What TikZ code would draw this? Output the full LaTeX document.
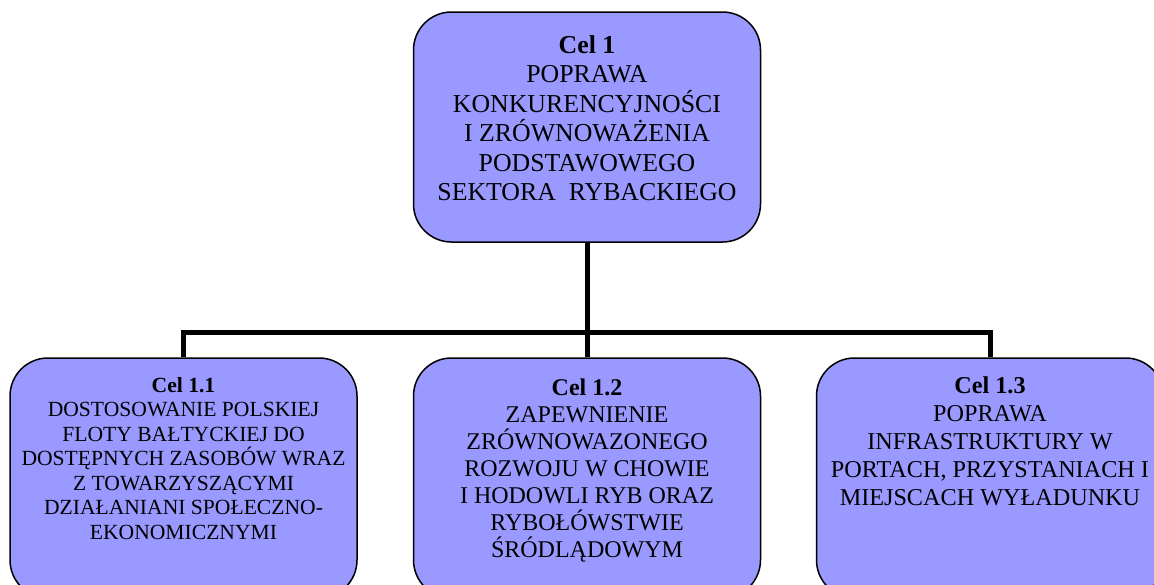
\documentclass[tikz,border=0pt]{standalone}
\usepackage{fontspec}
\setmainfont{Liberation Serif}
\usetikzlibrary{positioning}

\definecolor{goalblue}{HTML}{9999FF}

\tikzset{
    goal/.style={draw=black, line width=1.5pt, fill=goalblue, rounded corners=38pt,
        minimum width=347pt, inner sep=0pt},
    goaltext/.style={anchor=north, align=center, inner sep=0pt},
    branch/.style={line width=5pt}
}

\begin{document}
\begin{tikzpicture}[x=1pt, y=-1pt]
    % Frame
    \useasboundingbox (0,0) rectangle (1154,584);
    \clip (0,0) rectangle (1154,584);

    % Boxes
    \node[goal, minimum height=230pt] (cel1) at (587,127) {};
    \node[goal, minimum height=240pt] (cel11) at (183.5,478) {};
    \node[goal, minimum height=240pt] (cel12) at (587,478) {};
    \node[goal, minimum height=240pt] (cel13) at (990,478) {};

    % Tree lines
    \coordinate (bar) at (587,333);
    \draw[branch] (cel1.south) -- (bar);
    \draw[branch] (cel11.north) -- ++(0,-25) -| (cel13.north);
    \draw[branch] (bar) -- (cel12.north);

    % Texts
    \node[goaltext, font=\fontsize{25.8}{29.5}\selectfont] (t1) at ([yshift=-24pt]cel1.north)
        {\textbf{Cel 1}\\POPRAWA\\KONKURENCYJNOŚCI\\I ZRÓWNOWAŻENIA\\PODSTAWOWEGO\\SEKTORA\ \ RYBACKIEGO};
    \node[goaltext, font=\fontsize{21.6}{24.5}\selectfont] (t11) at ([yshift=-20pt]cel11.north)
        {\textbf{Cel 1.1}\\DOSTOSOWANIE POLSKIEJ\\FLOTY BAŁTYCKIEJ DO\\DOSTĘPNYCH ZASOBÓW WRAZ\\Z TOWARZYSZĄCYMI\\DZIAŁANIANI SPOŁECZNO-\\EKONOMICZNYMI};
    \node[goaltext, font=\fontsize{24}{27}\selectfont] (t12) at ([yshift=-21pt]cel12.north)
        {\textbf{Cel 1.2}\\ZAPEWNIENIE\\ZRÓWNOWAZONEGO\\ROZWOJU W CHOWIE\\I HODOWLI RYB ORAZ\\RYBOŁÓWSTWIE\\ŚRÓDLĄDOWYM};
    \node[goaltext, font=\fontsize{24.2}{28}\selectfont] (t13) at ([yshift=-19pt]cel13.north)
        {\textbf{Cel 1.3}\\POPRAWA\\INFRASTRUKTURY W\\PORTACH, PRZYSTANIACH I\\MIEJSCACH WYŁADUNKU};
\end{tikzpicture}
\end{document}
